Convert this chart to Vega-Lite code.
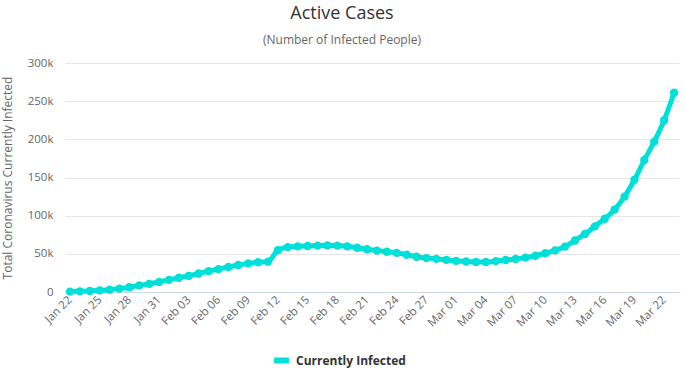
{
  "$schema": "https://vega.github.io/schema/vega-lite/v6.json",
  "autosize": "none",
  "width": 614,
  "height": 229,
  "padding": {"left": 65, "top": 63, "right": 6, "bottom": 80},
  "background": "white",
  "config": {
    "font": "Open Sans",
    "view": {"stroke": null}
  },
  "title": {
    "text": "Active Cases",
    "subtitle": "(Number of Infected People)",
    "anchor": "middle",
    "frame": "group",
    "dx": -30,
    "offset": 11,
    "fontSize": 18,
    "fontWeight": "normal",
    "color": "#333333",
    "subtitleFontSize": 12,
    "subtitleColor": "#666666",
    "subtitlePadding": 12
  },
  "data": {
    "values": [
      {"date": "Jan 22", "value": 500},
      {"date": "Jan 23", "value": 900},
      {"date": "Jan 24", "value": 1300},
      {"date": "Jan 25", "value": 2100},
      {"date": "Jan 26", "value": 3000},
      {"date": "Jan 27", "value": 4400},
      {"date": "Jan 28", "value": 6200},
      {"date": "Jan 29", "value": 8700},
      {"date": "Jan 30", "value": 10600},
      {"date": "Jan 31", "value": 13200},
      {"date": "Feb 01", "value": 15900},
      {"date": "Feb 02", "value": 18600},
      {"date": "Feb 03", "value": 21200},
      {"date": "Feb 04", "value": 24300},
      {"date": "Feb 05", "value": 27300},
      {"date": "Feb 06", "value": 30000},
      {"date": "Feb 07", "value": 32700},
      {"date": "Feb 08", "value": 35300},
      {"date": "Feb 09", "value": 37500},
      {"date": "Feb 10", "value": 39000},
      {"date": "Feb 11", "value": 39800},
      {"date": "Feb 12", "value": 54800},
      {"date": "Feb 13", "value": 58800},
      {"date": "Feb 14", "value": 59800},
      {"date": "Feb 15", "value": 60300},
      {"date": "Feb 16", "value": 60800},
      {"date": "Feb 17", "value": 61000},
      {"date": "Feb 18", "value": 60800},
      {"date": "Feb 19", "value": 59800},
      {"date": "Feb 20", "value": 58000},
      {"date": "Feb 21", "value": 56000},
      {"date": "Feb 22", "value": 54200},
      {"date": "Feb 23", "value": 52800},
      {"date": "Feb 24", "value": 51300},
      {"date": "Feb 25", "value": 48800},
      {"date": "Feb 26", "value": 46200},
      {"date": "Feb 27", "value": 44400},
      {"date": "Feb 28", "value": 43400},
      {"date": "Feb 29", "value": 42100},
      {"date": "Mar 01", "value": 40800},
      {"date": "Mar 02", "value": 39900},
      {"date": "Mar 03", "value": 39400},
      {"date": "Mar 04", "value": 39300},
      {"date": "Mar 05", "value": 40500},
      {"date": "Mar 06", "value": 41900},
      {"date": "Mar 07", "value": 43300},
      {"date": "Mar 08", "value": 45000},
      {"date": "Mar 09", "value": 47500},
      {"date": "Mar 10", "value": 50800},
      {"date": "Mar 11", "value": 54500},
      {"date": "Mar 12", "value": 59500},
      {"date": "Mar 13", "value": 67500},
      {"date": "Mar 14", "value": 76000},
      {"date": "Mar 15", "value": 86000},
      {"date": "Mar 16", "value": 96000},
      {"date": "Mar 17", "value": 108000},
      {"date": "Mar 18", "value": 125000},
      {"date": "Mar 19", "value": 147000},
      {"date": "Mar 20", "value": 173000},
      {"date": "Mar 21", "value": 197000},
      {"date": "Mar 22", "value": 225000},
      {"date": "Mar 23", "value": 261000}
    ]
  },
  "transform": [{"calculate": "'Currently Infected'", "as": "series"}],
  "encoding": {
    "x": {
      "field": "date",
      "type": "ordinal",
      "sort": null,
      "scale": {"type": "point", "padding": 0.5},
      "axis": {
        "title": null,
        "values": ["Jan 22", "Jan 25", "Jan 28", "Jan 31", "Feb 03", "Feb 06", "Feb 09", "Feb 12", "Feb 15", "Feb 18", "Feb 21", "Feb 24", "Feb 27", "Mar 01", "Mar 04", "Mar 07", "Mar 10", "Mar 13", "Mar 16", "Mar 19", "Mar 22"],
        "labelAngle": -45,
        "labelAlign": "right",
        "labelBaseline": "middle",
        "labelFontSize": 11.5,
        "labelColor": "#666666",
        "labelPadding": 6,
        "ticks": false,
        "domainColor": "#ccd6eb",
        "domainWidth": 1,
        "grid": false
      }
    },
    "y": {
      "field": "value",
      "type": "quantitative",
      "scale": {"domain": [0, 300000], "nice": false},
      "axis": {
        "title": "Total Coronavirus Currently Infected",
        "titleFontSize": 12,
        "titleFontWeight": "normal",
        "titleColor": "#666666",
        "titlePadding": 13,
        "values": [0, 50000, 100000, 150000, 200000, 250000, 300000],
        "labelExpr": "datum.value == 0 ? '0' : (datum.value / 1000) + 'k'",
        "labelFontSize": 11.5,
        "labelColor": "#666666",
        "labelPadding": 12,
        "ticks": false,
        "domain": false,
        "gridColor": "#e6e6e6",
        "gridWidth": 1
      }
    },
    "color": {
      "field": "series",
      "type": "nominal",
      "scale": {"range": ["#00e0d9"]},
      "legend": {
        "title": null,
        "orient": "none",
        "legendX": 206,
        "legendY": 287,
        "symbolType": "stroke",
        "symbolStrokeWidth": 6,
        "symbolSize": 220,
        "labelFontSize": 12,
        "labelFontWeight": "bold",
        "labelColor": "#333333"
      }
    }
  },
  "layer": [
    {"mark": {"type": "line", "strokeWidth": 5, "interpolate": "monotone"}},
    {"mark": {"type": "point", "filled": true, "opacity": 1, "size": 70}}
  ]
}
